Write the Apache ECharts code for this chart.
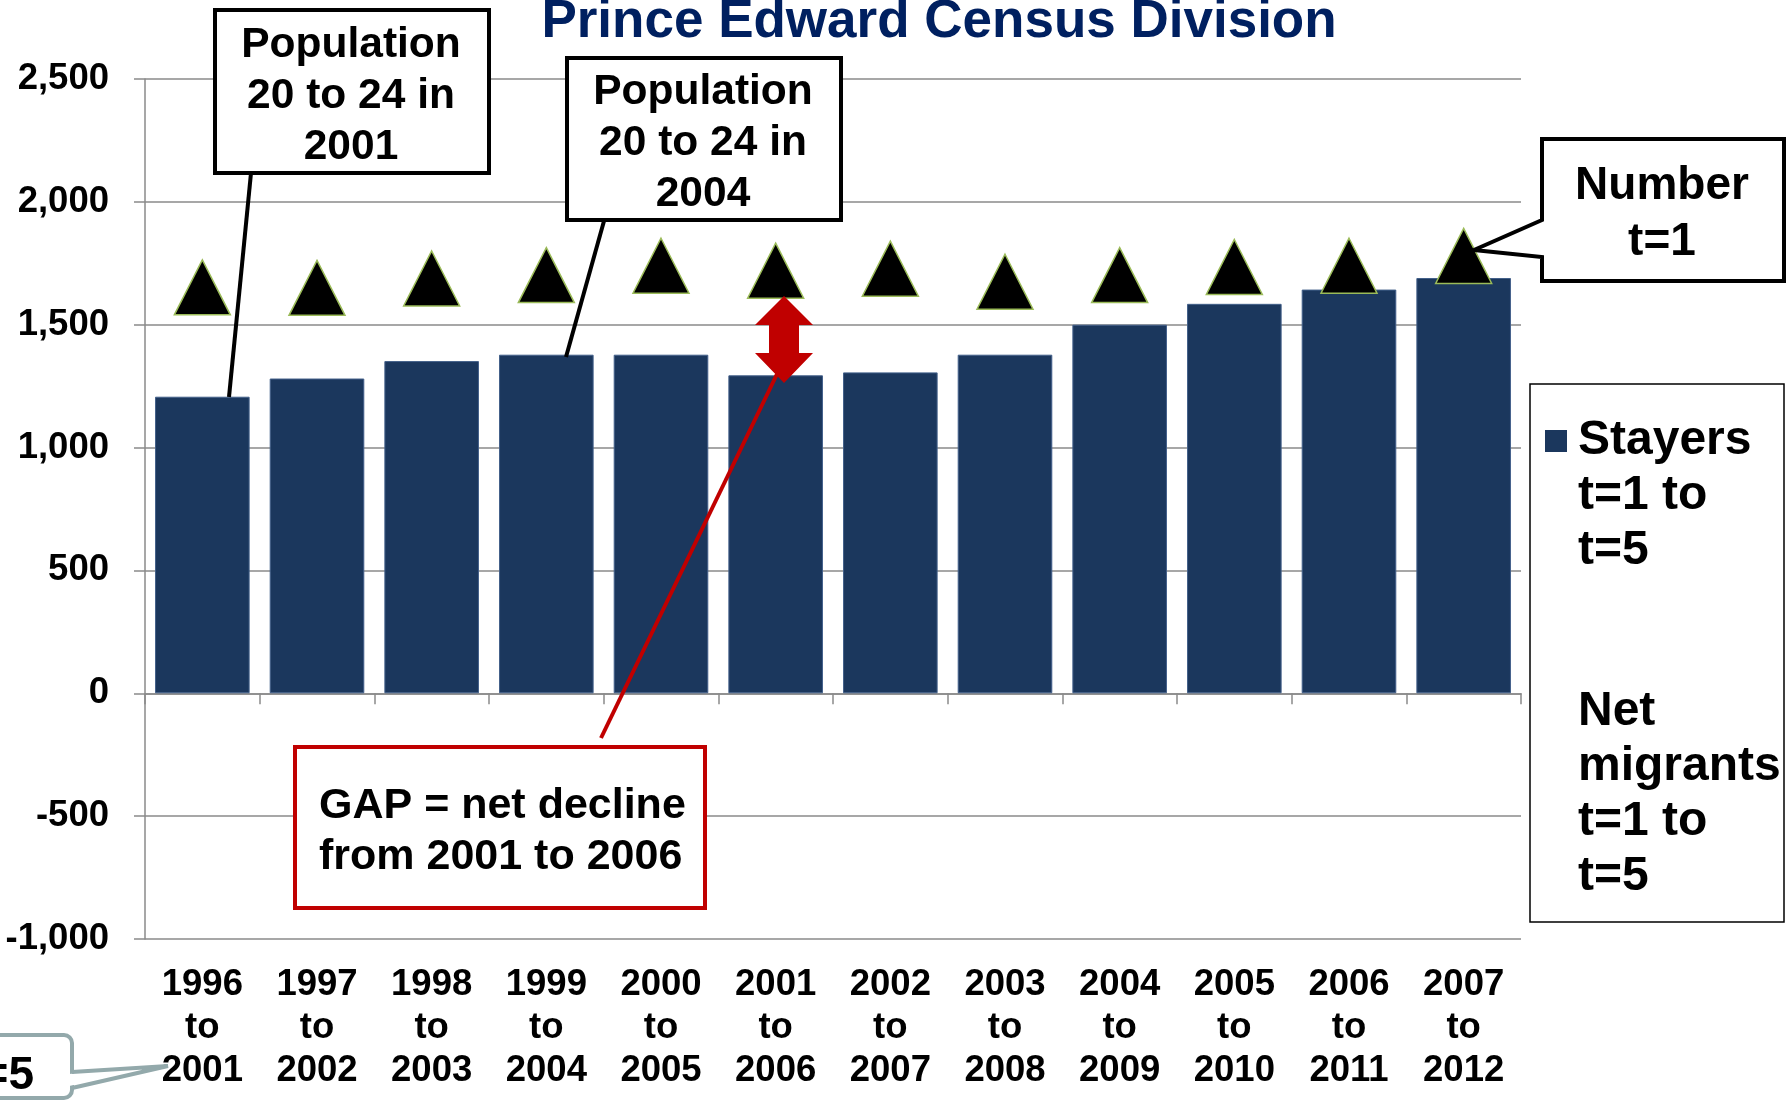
<!DOCTYPE html>
<html>
<head>
<meta charset="utf-8">
<script src="https://cdn.jsdelivr.net/npm/echarts@6/dist/echarts.min.js"></script>
<style>
  html, body { margin: 0; padding: 0; background: #fff; }
  #chart { width: 1787px; height: 1101px; }
</style>
</head>
<body>
<div id="chart"></div>
<script>
var periods = ['1996\nto\n2001', '1997\nto\n2002', '1998\nto\n2003', '1999\nto\n2004',
  '2000\nto\n2005', '2001\nto\n2006', '2002\nto\n2007', '2003\nto\n2008',
  '2004\nto\n2009', '2005\nto\n2010', '2006\nto\n2011', '2007\nto\n2012'];
// stayers t=1 to t=5 (bars)
var stayers = [1207, 1281, 1352, 1378, 1378, 1294, 1306, 1378, 1500, 1585, 1643, 1690];
// number at t=1 (triangles)
var numberT1 = [1652, 1650, 1688, 1702, 1740, 1720, 1728, 1675, 1702, 1735, 1740, 1780];
var yMin = -1000, yMax = 2500, yStep = 500;

var FONT = '"Liberation Sans", Arial, sans-serif';
var gridColor = '#8a8a8a';

function txt(x, y, text, size, lh, align, color) {
  return {
    type: 'text', x: x, y: y, z: 110,
    style: {
      text: text, fontFamily: FONT, fontWeight: 'bold', fontSize: size,
      lineHeight: lh, fill: color || '#000', align: align || 'center', verticalAlign: 'middle'
    }
  };
}

var chart = echarts.init(document.getElementById('chart'));

var option = {
  animation: false,
  grid: { left: 145, right: 266, top: 79, bottom: 162, containLabel: false },
  xAxis: [
    {
      type: 'category',
      data: periods,
      axisLine: { show: false, onZero: false },
      axisTick: { show: false },
      axisLabel: {
        interval: 0, margin: 24, color: '#000', fontFamily: FONT,
        fontWeight: 'bold', fontSize: 36.5, lineHeight: 43
      }
    },
    {
      type: 'category',
      data: periods,
      position: 'bottom',
      axisLine: { onZero: true, lineStyle: { color: gridColor, width: 1.5 } },
      axisTick: { show: true, length: 11, lineStyle: { color: gridColor, width: 1.5 } },
      axisLabel: { show: false }
    }
  ],
  yAxis: {
    type: 'value',
    min: yMin, max: yMax, interval: yStep,
    axisLine: { show: true, lineStyle: { color: gridColor, width: 1.5 } },
    axisTick: { show: true, length: 11, lineStyle: { color: gridColor, width: 1.5 } },
    splitLine: { show: true, lineStyle: { color: gridColor, width: 1.5 } },
    axisLabel: {
      margin: 36, color: '#000', fontFamily: FONT, fontWeight: 'bold', fontSize: 36.5,
      formatter: function (v) { return v.toLocaleString('en-US'); }
    }
  },
  series: [
    {
      name: 'Stayers t=1 to t=5',
      type: 'bar',
      xAxisIndex: 0,
      data: stayers,
      barCategoryGap: '17.5%',
      itemStyle: { color: '#1b375d', borderColor: '#43608a', borderWidth: 1 }
    },
    {
      name: 'Number t=1',
      type: 'scatter',
      xAxisIndex: 1,
      data: numberT1,
      symbol: 'triangle',
      symbolSize: [56, 55],
      z: 5,
      itemStyle: { color: '#000', borderColor: '#9bbb59', borderWidth: 1.5, opacity: 1 }
    }
  ],
  graphic: [
    // title (clipped at top like the source)
    txt(939, 22, 'Prince Edward Census Division', 53, 53, 'center', '#002060'),

    // callout: Population 20 to 24 in 2001
    { type: 'line', z: 100, shape: { x1: 251, y1: 173, x2: 229, y2: 397 }, style: { stroke: '#000', lineWidth: 4 } },
    { type: 'rect', z: 100, shape: { x: 215, y: 10, width: 274, height: 163 }, style: { fill: '#fff', stroke: '#000', lineWidth: 4 } },
    txt(351, 96, 'Population\n20 to 24 in\n2001', 42.5, 51),

    // callout: Population 20 to 24 in 2004
    { type: 'line', z: 100, shape: { x1: 604, y1: 221, x2: 566, y2: 357 }, style: { stroke: '#000', lineWidth: 4 } },
    { type: 'rect', z: 100, shape: { x: 567, y: 58, width: 274, height: 162 }, style: { fill: '#fff', stroke: '#000', lineWidth: 4 } },
    txt(703, 143, 'Population\n20 to 24 in\n2004', 42.5, 51),

    // callout: Number t=1
    { type: 'polygon', z: 100, shape: { points: [[1542, 139], [1784, 139], [1784, 281], [1542, 281], [1542, 257], [1474, 250], [1542, 220]] },
      style: { fill: '#fff', stroke: '#000', lineWidth: 4 } },
    txt(1662, 214, 'Number\nt=1', 46, 56),

    // legend box
    { type: 'rect', z: 100, shape: { x: 1530, y: 384, width: 254, height: 538 }, style: { fill: '#fff', stroke: '#000', lineWidth: 1.5 } },
    { type: 'rect', z: 101, shape: { x: 1545, y: 430, width: 22, height: 22 }, style: { fill: '#1b375d' } },
    txt(1578, 496, 'Stayers\nt=1 to\nt=5', 48, 55, 'left'),
    txt(1578, 794, 'Net\nmigrants\nt=1 to\nt=5', 48, 55, 'left'),

    // GAP arrow and callout
    { type: 'line', z: 100, shape: { x1: 778, y1: 372, x2: 601, y2: 738 }, style: { stroke: '#c00000', lineWidth: 4 } },
    { type: 'polygon', z: 101, shape: { points: [[784, 296], [813, 325], [799, 325], [799, 353], [813, 353], [784, 383], [755, 353], [769, 353], [769, 325], [755, 325]] },
      style: { fill: '#c00000' } },
    { type: 'rect', z: 100, shape: { x: 295, y: 747, width: 410, height: 161 }, style: { fill: '#fff', stroke: '#c00000', lineWidth: 4 } },
    txt(319, 832, 'GAP = net decline\nfrom 2001 to 2006', 43, 51, 'left'),

    // partial callout at bottom left
    { type: 'rect', z: 100, shape: { x: -40, y: 1035, width: 112, height: 63, r: 8 }, style: { fill: '#fff', stroke: '#93a9ab', lineWidth: 4 } },
    { type: 'polygon', z: 101, shape: { points: [[69, 1074], [168, 1066], [69, 1086]] }, style: { fill: '#fff' } },
    { type: 'polyline', z: 101, shape: { points: [[72, 1072], [168, 1066], [72, 1088]] }, style: { stroke: '#93a9ab', lineWidth: 4, fill: null } },
    txt(34, 1076, 't=5', 46, 46, 'right')
  ]
};

chart.setOption(option);
</script>
</body>
</html>
